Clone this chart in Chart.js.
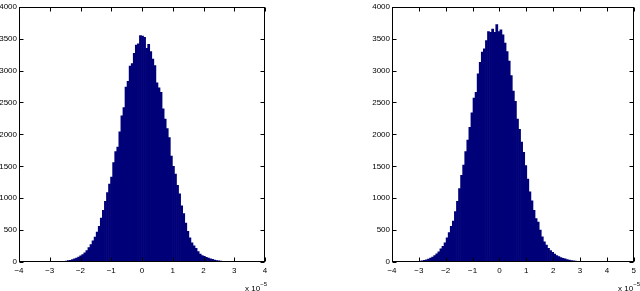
<!DOCTYPE html>
<html>
<head>
<meta charset="utf-8">
<script src="https://cdn.jsdelivr.net/npm/chart.js@4/dist/chart.umd.min.js"></script>
<style>
  html, body { margin:0; padding:0; background:#fff; }
  body { width:640px; height:291px; position:relative; overflow:hidden; font-family:"Liberation Sans", Arial, sans-serif; }
  .box { position:absolute; top:0; height:291px; }
  .exp { position:absolute; font-size:8px; line-height:8px; color:#000; white-space:nowrap; }
  .exp sup { font-size:6px; position:relative; top:-1px; }
</style>
</head>
<body>
<div class="box" style="left:0;width:280px"><canvas id="histLeft"></canvas></div>
<div class="box" style="left:360px;width:280px"><canvas id="histRight"></canvas></div>
<div class="exp" style="left:245px;top:281px">x 10<sup>&minus;5</sup></div>
<div class="exp" style="left:618px;top:281px">x 10<sup>&minus;5</sup></div>

<script>
// histogram 1 (100 bins, x in units of 1e-5)
const leftBinStart = -3.3;
const leftBinWidth = 0.067;
const leftCounts = [
    1, 0, 0, 1, 1, 2, 3, 4, 5, 7,
    9, 12, 16, 21, 28, 36, 48, 60, 76, 98,
    118, 142, 180, 226, 275, 332, 390, 470, 560, 690,
    810, 950, 1090, 1220, 1330, 1560, 1730, 1800, 2040, 2290,
    2420, 2740, 2830, 3070, 3110, 3270, 3400, 3420, 3550, 3540,
    3520, 3350, 3410, 3300, 3180, 3080, 2810, 2730, 2660, 2400,
    2240, 2090, 1950, 1660, 1500, 1380, 1200, 1070, 880, 760,
    610, 480, 380, 300, 255, 215, 165, 125, 100, 90,
    75, 62, 50, 40, 30, 24, 18, 13, 10, 7,
    5, 4, 3, 2, 1, 1, 0, 1, 0, 1
];

// histogram 2
const rightBinStart = -3.68;
const rightBinWidth = 0.077;
const rightCounts = [
    1, 0, 1, 1, 2, 3, 4, 6, 10, 14,
    19, 26, 34, 44, 62, 78, 100, 130, 160, 205,
    245, 300, 380, 460, 560, 640, 790, 950, 1150, 1360,
    1520, 1730, 1910, 2110, 2340, 2570, 2660, 2950, 3130, 3290,
    3340, 3470, 3610, 3600, 3650, 3600, 3720, 3610, 3640, 3560,
    3430, 3300, 3150, 2920, 2680, 2520, 2240, 2080, 1880, 1720,
    1510, 1300, 1100, 960, 810, 680, 625, 500, 395, 315,
    265, 215, 178, 150, 125, 100, 85, 70, 58, 48,
    38, 30, 24, 18, 14, 10, 7, 5, 4, 3,
    2, 1, 1, 0, 1, 0, 0, 0, 0, 1
];

const yTicks = [0, 500, 1000, 1500, 2000, 2500, 3000, 3500, 4000];
const leftXTicks = [-4, -3, -2, -1, 0, 1, 2, 3, 4];
const rightXTicks = [-4, -3, -2, -1, 0, 1, 2, 3, 4, 5];

const FONT = { family: '"Liberation Sans", Arial, sans-serif', size: 8 };

// matlab style box with inward ticks on all four sides
const matlabFrame = {
    id: 'matlabFrame',
    afterDatasetsDraw(chart) {
        const { ctx, chartArea: a, scales } = chart;
        const L = Math.round(a.left) + 0.5, R = Math.round(a.right) - 0.5;
        const T = Math.round(a.top) + 0.5, B = Math.round(a.bottom) - 0.5;
        ctx.save();
        ctx.strokeStyle = '#000';
        ctx.lineWidth = 1;
        ctx.beginPath();
        scales.x.ticks.forEach(t => {
            const px = Math.round(scales.x.getPixelForValue(t.value)) + 0.5;
            ctx.moveTo(px, B); ctx.lineTo(px, B - 4);
            ctx.moveTo(px, T); ctx.lineTo(px, T + 4);
        });
        scales.y.ticks.forEach(t => {
            const py = Math.round(scales.y.getPixelForValue(t.value)) + 0.5;
            ctx.moveTo(L, py); ctx.lineTo(L + 4, py);
            ctx.moveTo(R, py); ctx.lineTo(R - 4, py);
        });
        ctx.stroke();
        ctx.strokeRect(L, T, R - L, B - T);
        ctx.restore();
    }
};

function makeHist(canvasId, binStart, binWidth, counts, xTicks, yAxisWidth, padRight) {
    const points = counts.map((c, i) => ({ x: binStart + binWidth * (i + 0.5), y: c }));
    return new Chart(document.getElementById(canvasId), {
        type: 'bar',
        data: {
            datasets: [{
                data: points,
                backgroundColor: '#000078',
                borderWidth: 0,
                barPercentage: 1.0,
                categoryPercentage: 1.0
            }]
        },
        options: {
            responsive: true,
            maintainAspectRatio: false,
            animation: false,
            layout: { padding: { top: 5, right: padRight, left: 0, bottom: 0 } },
            plugins: { legend: { display: false }, tooltip: { enabled: false } },
            scales: {
                x: {
                    type: 'linear',
                    offset: false,
                    min: xTicks[0],
                    max: xTicks[xTicks.length - 1],
                    afterBuildTicks: s => { s.ticks = xTicks.map(v => ({ value: v })); },
                    afterFit: s => { s.height = 29; },
                    grid: { display: false, drawTicks: false, offset: false },
                    border: { display: false },
                    ticks: {
                        padding: 4,
                        color: '#000',
                        font: FONT,
                        maxRotation: 0,
                        autoSkip: false,
                        callback: v => (v < 0 ? '\u2212' + Math.abs(v) : String(v))
                    }
                },
                y: {
                    min: 0,
                    max: 4000,
                    afterBuildTicks: s => { s.ticks = yTicks.map(v => ({ value: v })); },
                    afterFit: s => { s.width = yAxisWidth; },
                    grid: { display: false, drawTicks: false },
                    border: { display: false },
                    ticks: { padding: 2, color: '#000', font: FONT, autoSkip: false, callback: v => String(v) }
                }
            }
        },
        plugins: [matlabFrame]
    });
}

makeHist('histLeft', leftBinStart, leftBinWidth, leftCounts, leftXTicks, 19, 15);
makeHist('histRight', rightBinStart, rightBinWidth, rightCounts, rightXTicks, 32, 3);
</script>
</body>
</html>
